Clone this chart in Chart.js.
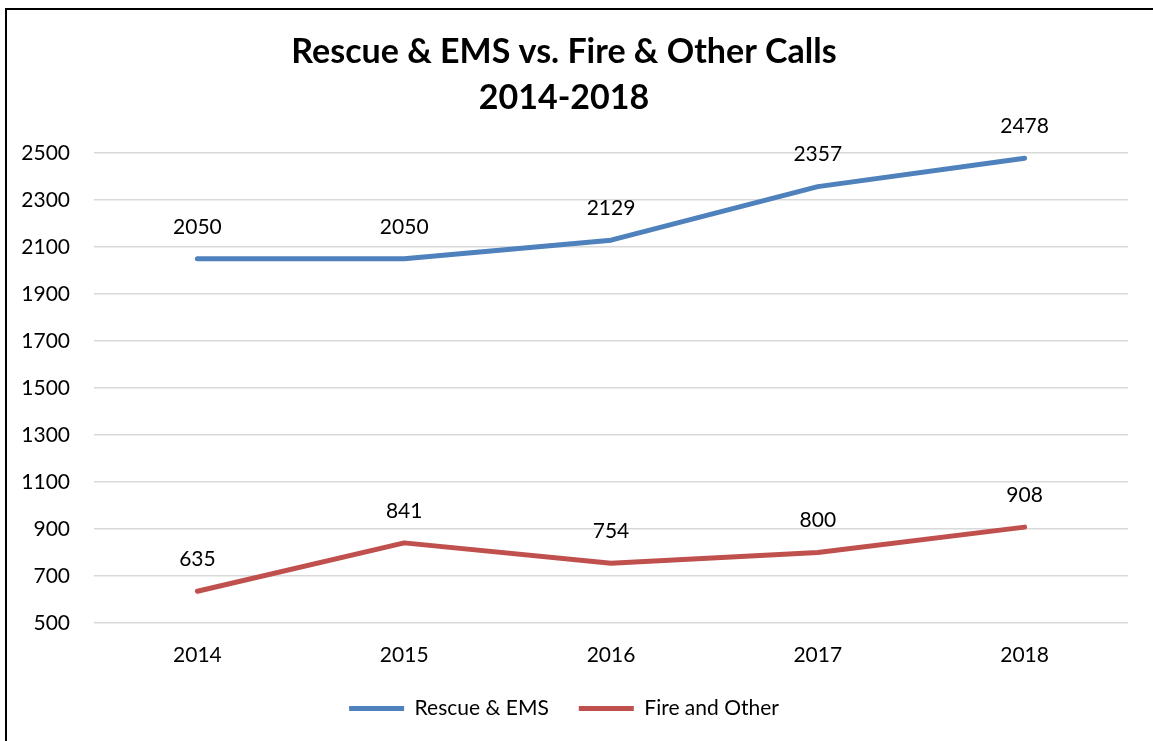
<!DOCTYPE html>
<html>
<head>
<meta charset="utf-8">
<script src="https://cdn.jsdelivr.net/npm/chart.js@4"></script>
<style>
  html, body { margin: 0; padding: 0; background: #fff; overflow: hidden; }
  #wrap { position: absolute; left: 0; top: 0; width: 1153px; height: 741px; }
  #frame { position: absolute; left: 5px; top: 8px; width: 1200px; height: 800px;
           border-left: 2px solid #000; border-top: 2px solid #000; pointer-events: none; }
</style>
</head>
<body>
<div id="wrap"><canvas id="chart" width="1153" height="741"></canvas></div>
<div id="frame"></div>
<script>
  const years = ["2014", "2015", "2016", "2017", "2018"];
  const rescueEms = [2050, 2050, 2129, 2357, 2478];
  const fireOther = [635, 841, 754, 800, 908];
  const yTicks = [500, 700, 900, 1100, 1300, 1500, 1700, 1900, 2100, 2300, 2500];

  const FONT = "Lato, 'Open Sans', sans-serif";
  const TXT = 21;

  // value labels above each point
  const pointLabels = {
    id: "pointLabels",
    afterDatasetsDraw(chart) {
      const ctx = chart.ctx;
      ctx.save();
      ctx.font = TXT + "px " + FONT;
      ctx.fillStyle = "#000";
      ctx.textAlign = "center";
      ctx.textBaseline = "middle";
      chart.data.datasets.forEach((ds, i) => {
        chart.getDatasetMeta(i).data.forEach((pt, j) => {
          ctx.fillText(String(ds.data[j]), pt.x, pt.y - 32);
        });
      });
      ctx.restore();
    },
  };

  const line = (label, data, col) => ({
    label, data, borderColor: col, backgroundColor: col, borderWidth: 5,
    borderCapStyle: "round", borderJoinStyle: "round", pointRadius: 0, tension: 0,
  });

  new Chart(document.getElementById("chart"), {
    type: "line",
    data: {
      labels: years,
      datasets: [line("Rescue & EMS", rescueEms, "#4F81BD"), line("Fire and Other", fireOther, "#C0504D")],
    },
    options: {
      responsive: false, animation: false,
      layout: { padding: { left: 0, right: 25, top: 0, bottom: 12 } },
      plugins: {
        title: { display: true, text: ["Rescue & EMS vs. Fire & Other Calls", "2014-2018"],
                 color: "#000", font: { family: FONT, size: 34, weight: "bold", lineHeight: 46 / 34 },
                 padding: { top: 29, bottom: 32 } },
        legend: { position: "bottom",
                  labels: { color: "#000", font: { family: FONT, size: TXT }, usePointStyle: true,
                            pointStyle: "line", pointStyleWidth: 55, padding: 30 } },
        tooltip: { enabled: false },
      },
      scales: {
        x: { offset: true, grid: { display: false, drawTicks: false }, border: { display: false },
             afterFit: (s) => { s.height = 45; },
             ticks: { color: "#000", font: { family: FONT, size: TXT }, padding: 20 } },
        y: { min: 500, max: 2500,
             afterFit: (s) => { s.width = 94; },
             afterBuildTicks: (s) => { s.ticks = yTicks.map((v) => ({ value: v })); },
             grid: { color: "#d9d9d9", lineWidth: 1.5, drawTicks: false },
             border: { display: false },
             ticks: { color: "#000", font: { family: FONT, size: TXT }, padding: 24,
                      callback: (v) => String(v) } },
      },
    },
    plugins: [pointLabels],
  });
</script>
</body>
</html>
